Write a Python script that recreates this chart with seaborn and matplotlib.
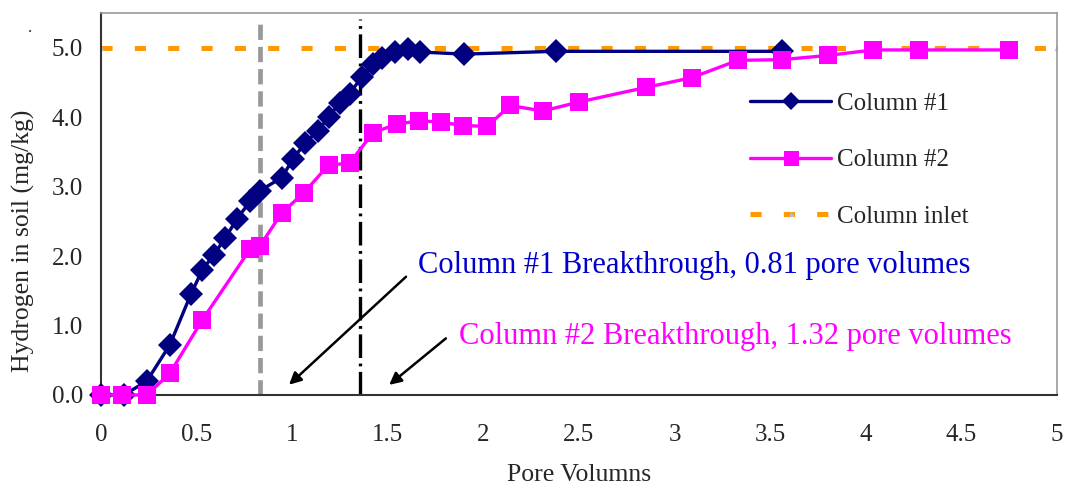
import numpy as np
import pandas as pd
import seaborn as sns
import matplotlib.pyplot as plt
from matplotlib.ticker import FormatStrFormatter

# values
col1_pv = [0.0, 0.12, 0.24, 0.36, 0.47, 0.53, 0.59, 0.65, 0.71, 0.78, 0.83, 0.945,
           1.005, 1.067, 1.133, 1.19, 1.25, 1.30, 1.364, 1.424, 1.468, 1.54, 1.607,
           1.668, 1.90, 2.38, 3.56]
col1_h2 = [0.0, 0.0, 0.20, 0.72, 1.45, 1.80, 2.02, 2.26, 2.53, 2.79, 2.94, 3.13,
           3.40, 3.63, 3.80, 4.00, 4.21, 4.34, 4.58, 4.77, 4.86, 4.94, 4.99,
           4.94, 4.91, 4.95, 4.95]

col2_pv = [0.0, 0.11, 0.24, 0.36, 0.53, 0.78, 0.83, 0.945, 1.06, 1.19, 1.30, 1.424,
           1.546, 1.665, 1.78, 1.895, 2.02, 2.14, 2.31, 2.50, 2.85, 3.09, 3.33,
           3.56, 3.80, 4.04, 4.28, 4.75]
col2_h2 = [0.0, 0.0, 0.0, 0.31, 1.08, 2.10, 2.14, 2.62, 2.91, 3.31, 3.34, 3.78,
           3.90, 3.95, 3.93, 3.88, 3.87, 4.17, 4.09, 4.22, 4.43, 4.57, 4.82,
           4.83, 4.89, 4.97, 4.97, 4.97]

inlet_pv = [0.0, 5.0]
inlet_h2 = [5.0, 5.0]

breakthrough_1 = 0.83
breakthrough_2 = 1.355

df1 = pd.DataFrame({"pv": col1_pv, "h2": col1_h2})
df2 = pd.DataFrame({"pv": col2_pv, "h2": col2_h2})
dfi = pd.DataFrame({"pv": inlet_pv, "h2": inlet_h2})

sns.set_style("white")
plt.rcParams['font.family'] = ['Liberation Serif', 'DejaVu Serif']
plt.rcParams['lines.scale_dashes'] = False

fig = plt.figure(figsize=(10.65, 4.87), dpi=100)
ax = fig.add_axes([0.0948, 0.189, 0.8977, 0.784])

navy = "#000080"
magenta = "#FF00FF"
orange = "#FF9900"

# breakthrough markers
ax.axvline(breakthrough_1, ymax=0.985, color="#999999", lw=3.4, dashes=[11, 5], zorder=1)
ax.axvline(breakthrough_2, ymax=0.985, color="black", lw=2.4, dashes=[17, 4, 2, 4], zorder=1)

sns.lineplot(data=dfi, x="pv", y="h2", ax=ax, color=orange, lw=3.6, dashes=False,
             label="Column inlet", zorder=2)
ax.lines[-1].set_dashes([8, 16])
ax.lines[-1].set_marker("^")
ax.lines[-1].set_markersize(3)
ax.lines[-1].set_markerfacecolor("#BBBBBB")
ax.lines[-1].set_markeredgecolor("#BBBBBB")

sns.lineplot(data=df1, x="pv", y="h2", ax=ax, color=navy, lw=2.4, marker="D",
             markersize=12.5, markeredgewidth=0, sort=False, label="Column #1",
             zorder=3, clip_on=False)
sns.lineplot(data=df2, x="pv", y="h2", ax=ax, color=magenta, lw=2.4, marker="s",
             markersize=13.5, markeredgewidth=0, sort=False, label="Column #2",
             zorder=4, clip_on=False)

ax.set_xlim(0, 5)
ax.set_ylim(0, 5.5)
ax.set_xticks(np.arange(0, 5.01, 0.5))
ax.set_xticklabels(["0", "0.5", "1", "1.5", "2", "2.5", "3", "3.5", "4", "4.5", "5"])
ax.set_yticks(np.arange(0, 5.01, 1.0))
ax.yaxis.set_major_formatter(FormatStrFormatter("%.1f"))
ax.tick_params(axis="x", direction="in", length=6, width=1, pad=21, labelsize=18)
ax.tick_params(axis="y", direction="in", length=6, width=1, pad=13, labelsize=18)
ax.set_xlabel("Pore Volumns", fontsize=18.5, labelpad=13)
ax.set_ylabel("Hydrogen in soil (mg/kg)", fontsize=18.5)
ax.yaxis.set_label_coords(-0.069, 0.403)

for side in ["left", "bottom"]:
    ax.spines[side].set_color("#333333")
    ax.spines[side].set_linewidth(1.5)
for side in ["top", "right"]:
    ax.spines[side].set_color("#999999")
    ax.spines[side].set_linewidth(1.2)

# annotations
ax.text(1.66, 1.87, "Column #1 Breakthrough, 0.81 pore volumes", color="#0000CC",
        fontsize=22, va="center", ha="left")
ax.text(1.87, 0.84, "Column #2 Breakthrough, 1.32 pore volumes", color=magenta,
        fontsize=22, va="center", ha="left")
ax.annotate("", xy=(0.973, 0.12), xytext=(1.606, 1.73),
            arrowprops=dict(arrowstyle="-|>", color="black", lw=1.8, mutation_scale=18))
ax.annotate("", xy=(1.496, 0.12), xytext=(1.815, 0.84),
            arrowprops=dict(arrowstyle="-|>", color="black", lw=1.8, mutation_scale=18))

handles, labels = ax.get_legend_handles_labels()
order = [labels.index("Column #1"), labels.index("Column #2"), labels.index("Column inlet")]
leg = ax.legend([handles[i] for i in order], [labels[i] for i in order],
                loc="upper left", bbox_to_anchor=(0.679, 0.792), frameon=False,
                borderpad=0, borderaxespad=0,
                fontsize=18, handlelength=3.24, labelspacing=1.35, handletextpad=0.24)
for h in leg.legend_handles:
    if h.get_marker() == "s":
        h.set_markersize(10.8)
    elif h.get_marker() == "D":
        h.set_markersize(9)

fig.text(0.026, 0.935, ".", fontsize=12)

fig.savefig("out.png", dpi=100)
